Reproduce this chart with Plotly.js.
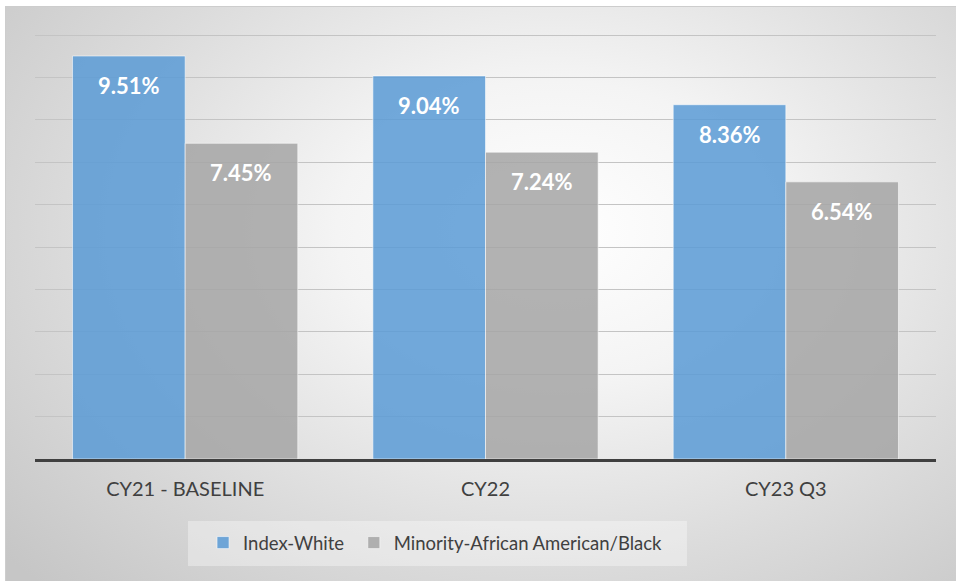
<!DOCTYPE html>
<html>
<head>
<meta charset="utf-8">
<script src="https://cdn.plot.ly/plotly-3.0.1.min.js"></script>
<style>
  html, body { margin: 0; padding: 0; background: #ffffff; }
  #wrap { position: relative; width: 956px; height: 581px; overflow: hidden; }
  #frame {
    position: absolute; left: 5px; top: 6px; width: 960px; height: 590px;
    border-top: 1px solid #cdcdcd; border-left: 1px solid #cdcdcd;
    background: radial-gradient(ellipse 75% 85% at 57% 38%, #ffffff 0%, #f4f4f4 30%, #dcdcdc 65%, #c6c6c6 100%);
  }
  #chart { position: absolute; left: 0; top: 0; width: 956px; height: 581px; }
</style>
</head>
<body>
<div id="wrap">
  <div id="frame"></div>
  <div id="chart"></div>
</div>
<script>
// Periods on the category axis
const periods = ['CY21 - BASELINE', 'CY22', 'CY23 Q3'];
// Rates per group (fractions)
const indexWhite = [0.0951, 0.0904, 0.0836];
const minorityBlack = [0.0745, 0.0724, 0.0654];
const seriesNames = ['Index-White', 'Minority-African American/Black'];

const font = 'Lato, "Open Sans", sans-serif';
const barLine = { color: 'rgba(255,255,255,0.55)', width: 1 };

const traces = [
  {
    type: 'bar', name: seriesNames[0] + '\u00a0', x: periods, y: indexWhite,
    marker: { color: 'rgba(91,155,213,0.86)', line: barLine },
    hoverinfo: 'skip'
  },
  {
    type: 'bar', name: seriesNames[1], x: periods, y: minorityBlack,
    marker: { color: 'rgba(165,165,165,0.86)', line: barLine },
    hoverinfo: 'skip'
  }
];

// Value labels inside the top of each bar
const plotW = 956 - 35 - 20;
const halfBar = plotW / periods.length * 0.75 / 4;
const annotations = [];
[indexWhite, minorityBlack].forEach((vals, s) => {
  vals.forEach((v, i) => {
    annotations.push({
      x: periods[i], y: v, xref: 'x', yref: 'y',
      text: '<b>' + (v * 100).toFixed(2) + '%</b>',
      showarrow: false, yanchor: 'top', yshift: -14,
      xshift: s === 0 ? -halfBar : halfBar,
      font: { family: font, size: 22, color: '#ffffff' }
    });
  });
});

const layout = {
  width: 956, height: 581,
  margin: { l: 35, r: 20, t: 31, b: 122 },
  paper_bgcolor: 'rgba(0,0,0,0)',
  plot_bgcolor: 'rgba(0,0,0,0)',
  barmode: 'group', bargap: 0.25, bargroupgap: 0,
  font: { family: font, color: '#404040' },
  xaxis: {
    type: 'category', showline: true, linecolor: '#404040', linewidth: 3,
    ticks: '', showgrid: false, ticklabelstandoff: 10,
    tickfont: { family: font, size: 20, color: '#404040' }
  },
  yaxis: {
    range: [0, 0.101], tick0: 0, dtick: 0.01, showticklabels: false,
    gridcolor: '#c4c4c4', gridwidth: 1, zeroline: false, showline: false, ticks: ''
  },
  showlegend: true,
  legend: {
    orientation: 'h', x: 0.1865, xanchor: 'left', y: -0.152, yanchor: 'top',
    bgcolor: 'rgba(0,0,0,0)', borderwidth: 0,
    font: { family: font, size: 18.5, color: '#404040' },
    itemwidth: 30, traceorder: 'normal'
  },
  shapes: [{
    type: 'rect', xref: 'paper', yref: 'paper', layer: 'below',
    x0: 0.1698, x1: 0.7236, y0: -0.1449, y1: -0.2500,
    fillcolor: 'rgba(255,255,255,0.35)', line: { width: 0 }
  }],
  annotations: annotations
};

Plotly.newPlot('chart', traces, layout, { displayModeBar: false, staticPlot: true });
</script>
</body>
</html>
